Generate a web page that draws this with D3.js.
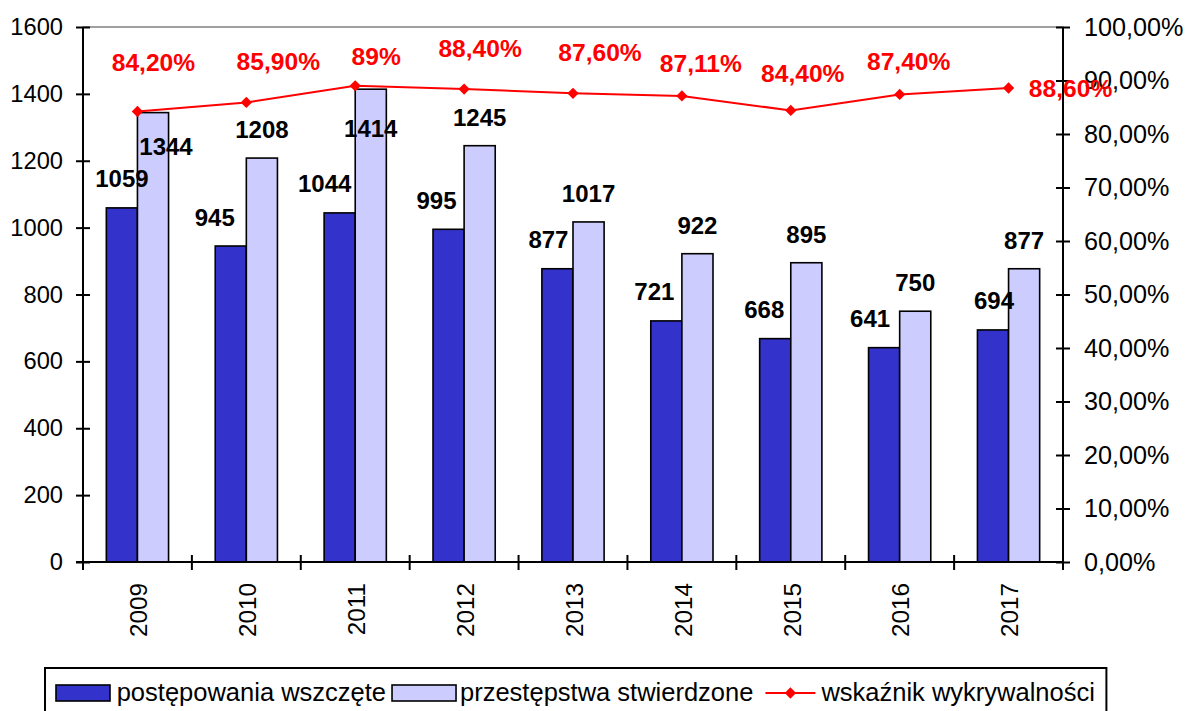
<!DOCTYPE html>
<html>
<head>
<meta charset="utf-8">
<script src="https://cdn.jsdelivr.net/npm/d3@7"></script>
<style>
  html, body { margin: 0; padding: 0; background: #fff; }
  svg { display: block; font-family: "Liberation Sans", Arial, sans-serif; }
</style>
</head>
<body>
<svg id="chart" width="1186" height="711"></svg>
<script>
// ---------------- DATA ----------------
const categories = ["2009", "2010", "2011", "2012", "2013", "2014", "2015", "2016", "2017"];
const initiated = [1059, 945, 1044, 995, 877, 721, 668, 641, 694];
const confirmed = [1344, 1208, 1414, 1245, 1017, 922, 895, 750, 877];
const detectionRate = [0.842, 0.859, 0.89, 0.884, 0.876, 0.8711, 0.844, 0.874, 0.886];
const rateLabels = ["84,20%", "85,90%", "89%", "88,40%", "87,60%", "87,11%", "84,40%", "87,40%", "88,60%"];
const leftTicks = [0, 200, 400, 600, 800, 1000, 1200, 1400, 1600];
const rightTicks = [0, 0.1, 0.2, 0.3, 0.4, 0.5, 0.6, 0.7, 0.8, 0.9, 1.0];
const rightTickLabels = ["0,00%", "10,00%", "20,00%", "30,00%", "40,00%", "50,00%", "60,00%", "70,00%", "80,00%", "90,00%", "100,00%"];
const seriesNames = ["postępowania wszczęte", "przestępstwa stwierdzone", "wskaźnik wykrywalności"];

// ---------------- LAYOUT ----------------
const svg = d3.select("#chart");
const plot = { left: 83, right: 1063, top: 27, bottom: 562 };
const darkColor = "#3333CC", lightColor = "#CCCCFF", red = "#FF0000";
const FONT = "Liberation Sans, Arial, sans-serif";

const x0 = d3.scaleBand().domain(categories).range([plot.left, plot.right]).paddingInner(0).paddingOuter(0);
const x1 = d3.scaleBand().domain(["a", "b"]).range([0, x0.bandwidth()]).paddingInner(0).paddingOuter(0.75);
const y = d3.scaleLinear().domain([0, 1600]).range([plot.bottom, plot.top]);
const yR = d3.scaleLinear().domain([0, 1]).range([plot.bottom, plot.top]);

svg.append("rect").attr("width", 1186).attr("height", 711).attr("fill", "#fff");

// plot area border (gray)
svg.append("rect")
  .attr("x", plot.left).attr("y", plot.top)
  .attr("width", plot.right - plot.left).attr("height", plot.bottom - plot.top)
  .attr("fill", "none").attr("stroke", "#808080").attr("stroke-width", 1.5);

// ---------------- BARS ----------------
const groups = svg.append("g").selectAll("g").data(categories).join("g")
  .attr("transform", d => `translate(${x0(d)},0)`);

groups.append("rect")
  .attr("x", x1("a")).attr("width", x1.bandwidth())
  .attr("y", (d, i) => y(initiated[i])).attr("height", (d, i) => y(0) - y(initiated[i]))
  .attr("fill", darkColor).attr("stroke", "#000").attr("stroke-width", 1.6);

groups.append("rect")
  .attr("x", x1("b")).attr("width", x1.bandwidth())
  .attr("y", (d, i) => y(confirmed[i])).attr("height", (d, i) => y(0) - y(confirmed[i]))
  .attr("fill", lightColor).attr("stroke", "#000").attr("stroke-width", 1.6);

// ---------------- AXES ----------------
const leftAxis = d3.axisLeft(y).tickValues(leftTicks).tickSize(0).tickPadding(20).tickFormat(d3.format("d"));
const gL = svg.append("g").attr("transform", `translate(${plot.left},0)`).call(leftAxis);
gL.select(".domain").remove();
gL.selectAll(".tick text").attr("font-size", 23.7).attr("fill", "#000").attr("font-family", FONT);
gL.selectAll(".tick").append("line").attr("x1", -7).attr("x2", 7).attr("stroke", "#000").attr("stroke-width", 2);

const rightAxis = d3.axisRight(yR).tickValues(rightTicks).tickSize(0).tickPadding(21)
  .tickFormat((d, i) => rightTickLabels[i]);
const gR = svg.append("g").attr("transform", `translate(${plot.right},0)`).call(rightAxis);
gR.select(".domain").remove();
gR.selectAll(".tick text").attr("font-size", 25.2).attr("fill", "#000").attr("font-family", FONT);
gR.selectAll(".tick").append("line").attr("x1", -7).attr("x2", 7).attr("stroke", "#000").attr("stroke-width", 2);

// axis lines
svg.append("line").attr("x1", plot.left).attr("x2", plot.left).attr("y1", plot.top).attr("y2", plot.bottom + 8)
  .attr("stroke", "#000").attr("stroke-width", 2);
svg.append("line").attr("x1", plot.right).attr("x2", plot.right).attr("y1", plot.top).attr("y2", plot.bottom)
  .attr("stroke", "#000").attr("stroke-width", 2);
svg.append("line").attr("x1", plot.left - 7).attr("x2", plot.right).attr("y1", plot.bottom).attr("y2", plot.bottom)
  .attr("stroke", "#000").attr("stroke-width", 2);

// category boundary ticks
const boundaries = categories.map(c => x0(c)).concat([plot.right]);
svg.append("g").selectAll("line").data(boundaries.slice(1)).join("line")
  .attr("x1", d => d).attr("x2", d => d).attr("y1", plot.bottom - 7).attr("y2", plot.bottom + 8)
  .attr("stroke", "#000").attr("stroke-width", 2);

// category labels (rotated)
svg.append("g").selectAll("text").data(categories).join("text")
  .attr("transform", d => `translate(${x0(d) + x0.bandwidth() / 2 + 1},${plot.bottom + 21}) rotate(-90)`)
  .attr("text-anchor", "end").attr("dy", "0.36em")
  .attr("font-size", 24.3).attr("fill", "#000")
  .text(d => d);

// ---------------- BAR LABELS ----------------
// manual nudges applied to individual labels (as in the original chart)
const darkNudgeX = { "2010": -16, "2011": -15, "2012": -12, "2013": -9, "2014": -12, "2015": -11, "2016": -14, "2017": 1 };
const lightInside = { "2009": { dx: 13, dy: 42 }, "2011": { dx: 0, dy: 48 } };

groups.append("text")
  .attr("x", d => x1("a") + x1.bandwidth() / 2 + (darkNudgeX[d] || 0))
  .attr("y", (d, i) => y(initiated[i]) - 20.5)
  .attr("text-anchor", "middle").attr("font-size", 24).attr("font-weight", "bold").attr("fill", "#000")
  .text((d, i) => initiated[i]);

groups.append("text")
  .attr("x", d => x1("b") + x1.bandwidth() / 2 + (lightInside[d] ? lightInside[d].dx : 0))
  .attr("y", (d, i) => y(confirmed[i]) + (lightInside[d] ? lightInside[d].dy : -20))
  .attr("text-anchor", "middle").attr("font-size", 24).attr("font-weight", "bold").attr("fill", "#000")
  .text((d, i) => confirmed[i]);

// ---------------- LINE ----------------
const cx = d => x0(d) + x0.bandwidth() / 2;
const line = d3.line().x((d, i) => cx(categories[i])).y(d => yR(d));
svg.append("path").datum(detectionRate).attr("d", line)
  .attr("fill", "none").attr("stroke", red).attr("stroke-width", 2);

const diamond = d3.symbol().type(d3.symbolSquare).size(64);
svg.append("g").selectAll("path").data(detectionRate).join("path")
  .attr("d", diamond)
  .attr("transform", (d, i) => `translate(${cx(categories[i])},${yR(d)}) rotate(45)`)
  .attr("fill", red);

// rate labels with manual nudges (center offset, baseline offset)
const rateNudge = [[16, -41], [32, -32], [21, -21], [16, -32], [27, -32], [19, -24], [12, -28], [9, -24], [62, 9]];
svg.append("g").selectAll("text").data(detectionRate).join("text")
  .attr("x", (d, i) => cx(categories[i]) + rateNudge[i][0])
  .attr("y", (d, i) => yR(d) + rateNudge[i][1])
  .attr("text-anchor", "middle").attr("font-size", 24.6).attr("font-weight", "bold").attr("fill", red)
  .text((d, i) => rateLabels[i]);

// ---------------- LEGEND ----------------
const legend = svg.append("g");
const legFont = 25.5;
const legBase = 701, legMid = 693;
const box = legend.append("rect").attr("x", 45).attr("y", 668).attr("height", 70)
  .attr("fill", "#fff").attr("stroke", "#000").attr("stroke-width", 2);

let lx = 56;
function legText(str) {
  const t = legend.append("text").attr("x", lx).attr("y", legBase).attr("font-size", legFont).attr("fill", "#000").text(str);
  lx += t.node().getComputedTextLength();
}
legend.append("rect").attr("x", lx).attr("y", 685).attr("width", 54).attr("height", 16)
  .attr("fill", darkColor).attr("stroke", "#000").attr("stroke-width", 1.6);
lx += 60.7;
legText(seriesNames[0]);
lx += 6;
legend.append("rect").attr("x", lx).attr("y", 685).attr("width", 64).attr("height", 16)
  .attr("fill", lightColor).attr("stroke", "#000").attr("stroke-width", 1.6);
lx += 68;
legText(seriesNames[1]);
lx += 12;
legend.append("line").attr("x1", lx).attr("x2", lx + 50).attr("y1", legMid).attr("y2", legMid)
  .attr("stroke", red).attr("stroke-width", 2);
legend.append("path").attr("d", diamond).attr("transform", `translate(${lx + 25},${legMid}) rotate(45)`).attr("fill", red);
lx += 56;
legText(seriesNames[2]);
lx += 11.5;
box.attr("width", lx - 45);
</script>
</body>
</html>
